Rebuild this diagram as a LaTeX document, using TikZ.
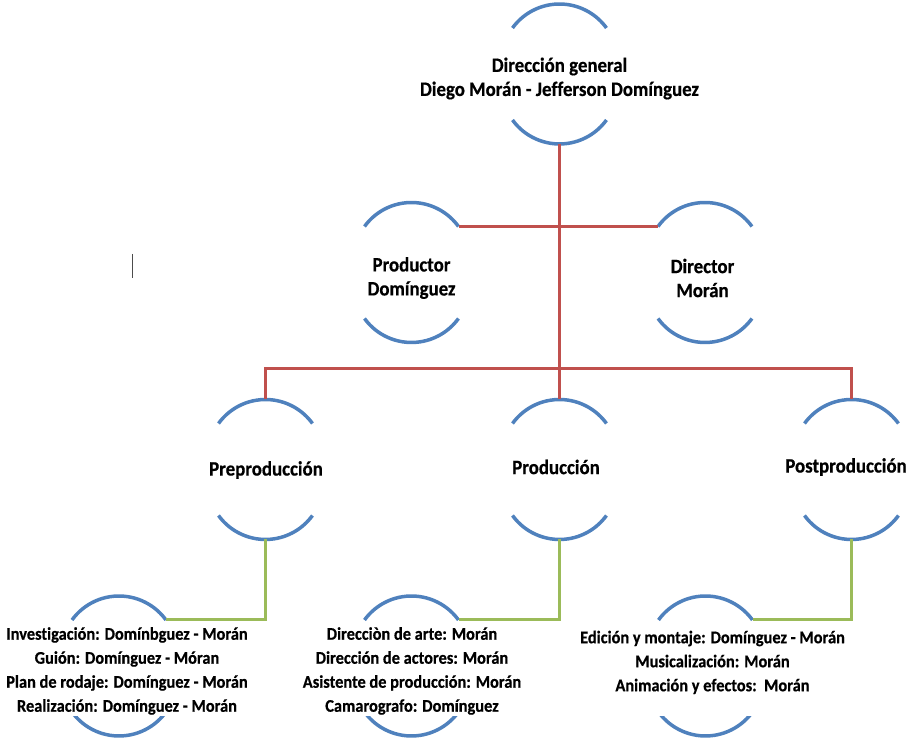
\documentclass[tikz,border=0pt]{standalone}
\usepackage{fontspec}
\setmainfont{Carlito}[Ligatures={NoCommon},BoldFeatures={FakeStretch=0.92,FakeBold=0.5}]
\definecolor{arcblue}{HTML}{4F81BD}
\definecolor{linkred}{HTML}{C0504D}
\definecolor{linkgreen}{HTML}{9BBB59}
\begin{document}
\begin{tikzpicture}[x=1pt,y=1pt,
  arcline/.style={draw=arcblue,line width=3.5pt},
  redline/.style={draw=linkred,line width=3pt},
  greenline/.style={draw=linkgreen,line width=3pt},
  ring/.pic={
    \draw[arcline] (-47,46) arc[start angle=144.1,end angle=35.9,radius=58];
    \draw[arcline] (-47,-46) arc[start angle=215.9,end angle=324.1,radius=58];
    \coordinate (-top) at (0,70);
    \coordinate (-bot) at (0,-70);
    \coordinate (-ne) at (47,46);
    \coordinate (-nw) at (-47,46);
  },
  bigtext/.style={font=\bfseries\fontsize{20.5}{24}\selectfont,align=center,inner sep=1pt},
  smalltext/.style={font=\bfseries\fontsize{17.8}{24}\selectfont,align=center,inner sep=1pt,fill=white}
]
\useasboundingbox (0,0) rectangle (911,741);
% circles
\pic (T) at (559.5,667) {ring};
\pic (P1) at (411.5,468.5) {ring};
\pic (P2) at (705,468.5) {ring};
\pic (L1) at (265.5,271.5) {ring};
\pic (L2) at (559.5,271.5) {ring};
\pic (L3) at (851.5,271.5) {ring};
\pic (C1) at (119,75) {ring};
\pic (C2) at (411.5,75) {ring};
\pic (C3) at (705.5,75) {ring};
\coordinate (J2) at (559.5,372);
% red connectors
\draw[redline] (T-bot) -- (L2-top);
\draw[redline] (P1-ne) -- (P2-nw);
\draw[redline] (L1-top) -- (L1-top |- J2) -- (L3-top |- J2) -- (L3-top);
% green connectors
\draw[greenline] (L1-bot) |- (C1-ne);
\draw[greenline] (L2-bot) |- (C2-ne);
\draw[greenline] (L3-bot) |- (C3-ne);
% texts
\node[bigtext] (tT) at (559.5,662.5) {Dirección general\\Diego Morán - Jefferson Domínguez};
\node[bigtext] (tP1) at (411.5,463) {Productor\\Domínguez};
\node[bigtext] (tP2) at (702.5,463) {Director\\Morán};
\node[bigtext] (tL1) at (266,271) {Preproducción};
\node[bigtext] (tL2) at (556,274) {Producción};
\node[bigtext] (tL3) at (846,274) {Postproducción};
\node[smalltext] (tC1) at (127,70) {Investigación: Domínbguez - Morán\\Guión: Domínguez - Móran\\Plan de rodaje: Domínguez - Morán\\Realización: Domínguez - Morán};
\node[smalltext] (tC2) at (412,70) {Direcciòn de arte: Morán\\Dirección de actores: Morán\\Asistente de producción: Morán\\Camarografo: Domínguez};
\node[smalltext] (tC3) at (712.5,68) {Edición y montaje: Domínguez - Morán\\Musicalización: Morán\\Animación y efectos:\ \ Morán\\\mbox{}};
% cursor mark
\draw[line width=1.3pt,black!70] (132.5,487) -- (132.5,463);
\end{tikzpicture}
\end{document}
